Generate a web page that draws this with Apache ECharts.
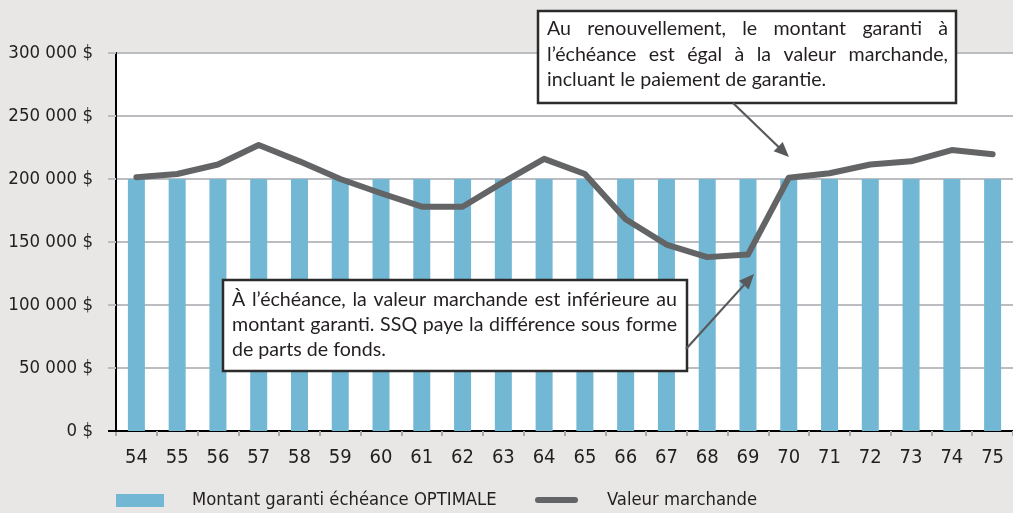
<!DOCTYPE html>
<html><head><meta charset="utf-8">
<script src="https://cdn.jsdelivr.net/npm/echarts@6/dist/echarts.min.js"></script>
<style>html,body{margin:0;padding:0;background:#e8e7e5}#c{width:1013px;height:513px}</style>
</head><body><div id="c"></div>
<script>
// ---- data ----
const categories = ['54','55','56','57','58','59','60','61','62','63','64','65','66','67','68','69','70','71','72','73','74','75'];
const guaranteedAmount = [200000,200000,200000,200000,200000,200000,200000,200000,200000,200000,200000,200000,200000,200000,200000,200000,200000,200000,200000,200000,200000,200000];
const marketValue = [201300,204000,211500,227000,214000,200000,188700,178000,178000,197500,216000,204000,168000,148000,138000,140000,201000,204600,211500,214000,223000,219700];
const yTickLabels = ['0 $','50 000 $','100 000 $','150 000 $','200 000 $','250 000 $','300 000 $'];
const seriesNames = ['Montant garanti échéance OPTIMALE','Valeur marchande'];
const note1Lines = ['Au renouvellement, le montant garanti à','l’échéance est égal à la valeur marchande,','incluant le paiement de garantie.'];
const note2Lines = ['À l’échéance, la valeur marchande est inférieure au','montant garanti. SSQ paye la différence sous forme','de parts de fonds.'];

// ---- styles ----
const NARROW = '"DejaVu Sans Condensed",sans-serif';
const NOTE_FONT = 'Lato';
const BAR_COLOR = '#72b7d3';
const LINE_COLOR = '#636466';
const TEXT_COLOR = '#231f20';

const chart = echarts.init(document.getElementById('c'), null, {renderer:'canvas'});

const cv = document.createElement('canvas').getContext('2d');
function measure(t, size, fam){ cv.font = size + 'px ' + fam; return cv.measureText(t).width; }
function fitSize(lines, width, size, fam){
  let s = size;
  lines.forEach(ln => { const w = measure(ln, s, fam) * 1.01; if (w > width) s = s * width / w; });
  return s;
}
function textBlock(lines, x0, x1, yc0, lh, s, fam, justifyCount){
  const els = [];
  lines.forEach((ln, i) => {
    const y = yc0 + i * lh;
    if (i < justifyCount) {
      const words = ln.split(' ');
      const ws = words.map(w => measure(w, s, fam));
      const tot = ws.reduce((a, b) => a + b, 0);
      const gap = (x1 - x0 - tot) / (words.length - 1);
      let x = x0;
      words.forEach((w, j) => {
        els.push({type:'text', x: x, y: y, z: 110, style:{text:w, fill:TEXT_COLOR, fontSize:s, fontFamily:fam, verticalAlign:'middle', align:'left'}});
        x += ws[j] + gap;
      });
    } else {
      els.push({type:'text', x: x0, y: y, z: 110, style:{text:ln, fill:TEXT_COLOR, fontSize:s, fontFamily:fam, verticalAlign:'middle', align:'left'}});
    }
  });
  return els;
}
function arrow(x0, y0, x1, y1){
  const dx = x1 - x0, dy = y1 - y0, L = Math.hypot(dx, dy);
  const ux = dx / L, uy = dy / L, nx = -uy, ny = ux;
  const hl = 15, hw = 6.5;
  const bx = x1 - ux * hl, by = y1 - uy * hl;
  return [
    {type:'line', z:105, shape:{x1:x0, y1:y0, x2:x1 - ux * (hl - 2), y2:y1 - uy * (hl - 2)}, style:{stroke:'#58595b', lineWidth:2.2}},
    {type:'polygon', z:105, shape:{points:[[x1, y1],[bx + nx * hw, by + ny * hw],[bx - nx * hw, by - ny * hw]]}, style:{fill:'#58595b'}}
  ];
}

const noteSize = Math.min(fitSize(note2Lines.slice(0, 2), 677 - 232, 23, NOTE_FONT), fitSize(note1Lines.slice(0, 2), 948 - 547, 23, NOTE_FONT));

const graphics = [].concat(
  [{type:'line', z:50, shape:{x1:108, y1:431, x2:117, y2:431}, style:{stroke:'#000', lineWidth:2}}],
  arrow(733, 103, 789, 157),
  arrow(686, 349, 754, 274),
  [{type:'rect', z:100, shape:{x:538, y:11, width:418, height:92}, style:{fill:'#fff', stroke:'#2b2b2b', lineWidth:2.5}}],
  textBlock(note1Lines, 547, 948, 29, 25.5, noteSize, NOTE_FONT, 2),
  [{type:'rect', z:100, shape:{x:223, y:280, width:464, height:91}, style:{fill:'#fff', stroke:'#2b2b2b', lineWidth:2.5}}],
  textBlock(note2Lines, 232, 677, 300, 25, noteSize, NOTE_FONT, 2),
  [
    {type:'rect', z:100, shape:{x:116, y:494, width:48, height:13}, style:{fill:BAR_COLOR}},
    {type:'text', z:100, x:192, y:500, style:{text:seriesNames[0], fill:TEXT_COLOR, fontSize:18.3, fontFamily:NARROW, verticalAlign:'middle'}},
    {type:'line', z:100, shape:{x1:538, y1:500, x2:575, y2:500}, style:{stroke:LINE_COLOR, lineWidth:6, lineCap:'round'}},
    {type:'text', z:100, x:607, y:500, style:{text:seriesNames[1], fill:TEXT_COLOR, fontSize:18.3, fontFamily:NARROW, verticalAlign:'middle'}}
  ]
);

chart.setOption({
  backgroundColor:'#e8e7e5',
  animation:false,
  grid:{left:116, right:-5, top:53, bottom:82, show:true, backgroundColor:'#ffffff', borderWidth:0, containLabel:false},
  xAxis:{
    type:'category', data:categories, boundaryGap:true,
    axisLine:{show:true, lineStyle:{color:'#000', width:2}},
    axisTick:{show:true, length:5, lineStyle:{color:'#a7a9ac', width:2}},
    axisLabel:{color:TEXT_COLOR, fontSize:20, fontFamily:NARROW, margin:17},
    splitLine:{show:false}
  },
  yAxis:{
    type:'value', min:0, max:300000, interval:50000,
    axisLine:{show:true, lineStyle:{color:'#000', width:2}},
    axisTick:{show:true, length:8, lineStyle:{color:'#bcbdc0', width:2}},
    axisLabel:{color:TEXT_COLOR, fontSize:18.5, fontFamily:NARROW, margin:23,
      formatter: v => yTickLabels[Math.round(v / 50000)]},
    splitLine:{show:true, lineStyle:{color:'#bcbdc0', width:2}}
  },
  series:[
    {name:seriesNames[0], type:'bar', data:guaranteedAmount, barWidth:17, itemStyle:{color:BAR_COLOR}, z:2},
    {name:seriesNames[1], type:'line', data:marketValue, symbol:'none', lineStyle:{color:LINE_COLOR, width:6, cap:'round', join:'round'}, z:3}
  ],
  graphic:graphics
});
</script></body></html>
